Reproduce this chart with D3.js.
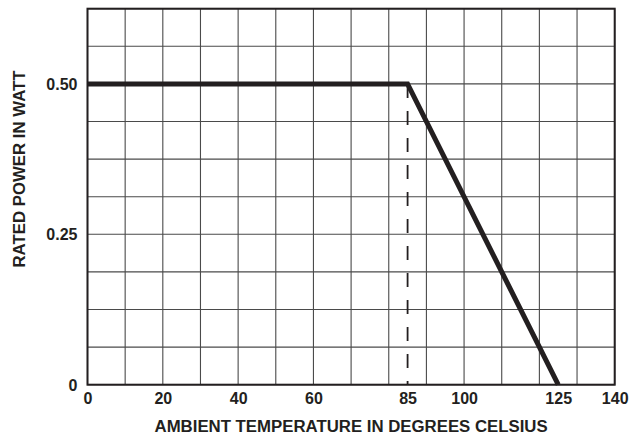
<!DOCTYPE html>
<html>
<head>
<meta charset="utf-8">
<script src="https://cdn.jsdelivr.net/npm/d3@7"></script>
<style>
  html, body { margin: 0; padding: 0; background: #fff; }
  text { font-family: "Liberation Sans", Arial, Helvetica, sans-serif; font-weight: bold; fill: #231f20; }
</style>
</head>
<body>
<svg id="chart" width="637" height="435"></svg>
<script>
// Data
const curveTemp = [0, 85, 125];
const curvePower = [0.5, 0.5, 0];
const kneeTemp = 85;
const kneePower = 0.5;
const xTickValues = [0, 20, 40, 60, 85, 100, 125, 140];
const xTickLabels = ["0", "20", "40", "60", "85", "100", "125", "140"];
const yTickValues = [0, 0.25, 0.5];
const yTickLabels = ["0", "0.25", "0.50"];
const xGridValues = d3.range(0, 141, 10);
const yGridValues = d3.range(0, 11).map(i => i * 0.0625);
const xTitle = "AMBIENT TEMPERATURE IN DEGREES CELSIUS";
const yTitle = "RATED POWER IN WATT";

(function () {
  const svg = d3.select("#chart");
  const mLeft = 87.5, mRight = 614.7, mTop = 8.7, mBottom = 384.7;
  const x = d3.scaleLinear().domain([0, 140]).range([mLeft, mRight]);
  const y = d3.scaleLinear().domain([0, 0.625]).range([mBottom, mTop]);

  // Grid
  const grid = svg.append("g");
  grid.selectAll("line.v").data(xGridValues).join("line").attr("class", "v")
    .attr("x1", d => x(d)).attr("x2", d => x(d))
    .attr("y1", mTop).attr("y2", mBottom)
    .attr("stroke", "#4a4a4a").attr("stroke-width", 1.1);
  grid.selectAll("line.h").data(yGridValues).join("line").attr("class", "h")
    .attr("y1", d => y(d)).attr("y2", d => y(d))
    .attr("x1", mLeft).attr("x2", mRight)
    .attr("stroke", "#4a4a4a").attr("stroke-width", 1.1);

  // Border
  svg.append("rect")
    .attr("x", mLeft).attr("y", mTop)
    .attr("width", mRight - mLeft).attr("height", mBottom - mTop)
    .attr("fill", "none").attr("stroke", "#231f20").attr("stroke-width", 2);

  // Dashed knee line
  svg.append("line")
    .attr("x1", x(kneeTemp)).attr("x2", x(kneeTemp))
    .attr("y1", y(kneePower)).attr("y2", y(0))
    .attr("stroke", "#231f20").attr("stroke-width", 1.8)
    .attr("stroke-dasharray", "14,13");

  // Derating curve
  const pts = curveTemp.map((t, i) => [t, curvePower[i]]);
  svg.append("path")
    .datum(pts)
    .attr("d", d3.line().x(d => x(d[0])).y(d => y(d[1])))
    .attr("fill", "none").attr("stroke", "#231f20").attr("stroke-width", 5)
    .attr("stroke-linejoin", "miter").attr("stroke-linecap", "butt");

  // X axis labels
  const xAxis = d3.axisBottom(x).tickValues(xTickValues)
    .tickFormat((d, i) => xTickLabels[i]).tickSize(0).tickPadding(0);
  const gx = svg.append("g").attr("transform", `translate(0,${mBottom})`).call(xAxis);
  gx.select(".domain").remove();
  gx.selectAll("text").attr("dy", null).attr("y", 19.8)
    .style("font-size", "16px").attr("font-family", null).attr("fill", null);

  // Y axis labels
  const yAxis = d3.axisLeft(y).tickValues(yTickValues)
    .tickFormat((d, i) => yTickLabels[i]).tickSize(0).tickPadding(0);
  const gy = svg.append("g").attr("transform", `translate(${mLeft - 10},0)`).call(yAxis);
  gy.select(".domain").remove();
  gy.selectAll("text").attr("dy", "0.35em")
    .style("font-size", "16px").attr("font-family", null).attr("fill", null);

  // Titles
  svg.append("text")
    .attr("x", (mLeft + mRight) / 2).attr("y", 431.5)
    .attr("text-anchor", "middle").style("font-size", "16.8px")
    .text(xTitle);
  svg.append("text")
    .attr("transform", "translate(25,169) rotate(-90)")
    .attr("text-anchor", "middle").style("font-size", "16.8px")
    .text(yTitle);
})();
</script>
</body>
</html>
